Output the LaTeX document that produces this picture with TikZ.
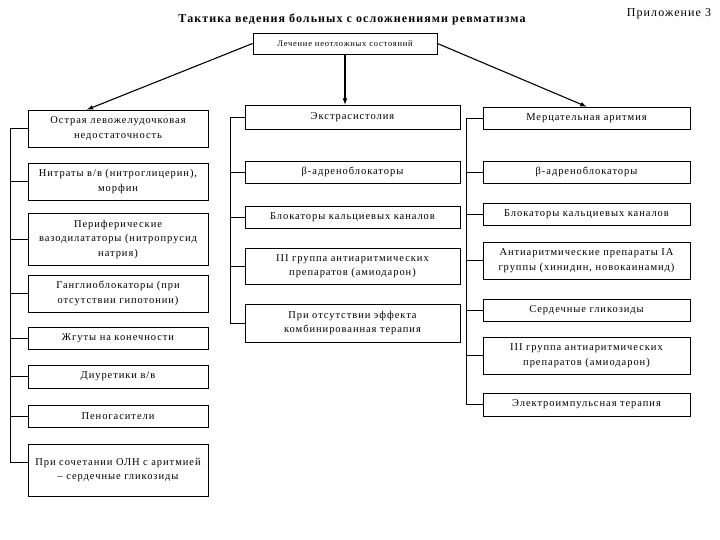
\documentclass[tikz,border=0pt]{standalone}
\usepackage{fontspec}
\setmainfont{Liberation Serif}[LetterSpace=9]
\usetikzlibrary{positioning}
\tikzset{
	blk/.style={draw, line width=0.8pt, align=center, inner sep=2pt,
		font=\fontsize{10.5}{14.5}\selectfont},
	lcol/.style={blk, minimum width=180pt, text width=176pt},
	mcol/.style={blk, minimum width=215pt, text width=211pt},
	rcol/.style={blk, minimum width=207pt, text width=203pt},
	arr/.style={-latex, line width=1.1pt},
	bus/.style={line width=0.8pt}
}
\begin{document}
\begin{tikzpicture}[x=1pt, y=-1pt]
		\useasboundingbox (0,0) rectangle (720,540);
		\node[font=\fontsize{12}{14}\selectfont\bfseries] (title) at (352,19) {Тактика ведения больных с осложнениями ревматизма};
		\node[font=\fontsize{12}{14}\selectfont] (app) at (669,14) {Приложение 3};
		\node[blk, minimum width=184pt, minimum height=21pt, font=\fontsize{8.5}{10}\selectfont] (top) at (345,43.5) {Лечение неотложных состояний};
		% left column
		\node[lcol, minimum height=37pt] (L1) at (118,128.5) {Острая левожелудочковая\\недостаточность};
		\node[lcol, minimum height=37pt] (L2) at (118,181.5) {Нитраты в/в (нитроглицерин),\\морфин};
		\node[lcol, minimum height=52pt] (L3) at (118,239) {Периферические\\вазодилататоры (нитропрусид\\натрия)};
		\node[lcol, minimum height=37pt] (L4) at (118,293.5) {Ганглиоблокаторы (при\\отсутствии гипотонии)};
		\node[lcol, minimum height=22pt] (L5) at (118,338) {Жгуты на конечности};
		\node[lcol, minimum height=23pt] (L6) at (118,376.5) {Диуретики в/в};
		\node[lcol, minimum height=22pt] (L7) at (118,416) {Пеногасители};
		\node[lcol, minimum height=52pt] (L8) at (118,470) {При сочетании ОЛН с аритмией\\– сердечные гликозиды};
		% middle column
		\node[mcol, minimum height=24pt] (M1) at (352.5,117) {Экстрасистолия};
		\node[mcol, minimum height=22pt] (M2) at (352.5,172) {β-адреноблокаторы};
		\node[mcol, minimum height=22pt] (M3) at (352.5,217) {Блокаторы кальциевых каналов};
		\node[mcol, minimum height=36pt] (M4) at (352.5,266) {III группа антиаритмических\\препаратов (амиодарон)};
		\node[mcol, minimum height=38pt] (M5) at (352.5,323) {При отсутствии эффекта\\комбинированная терапия};
		% right column
		\node[rcol, minimum height=22pt] (R1) at (586.5,118) {Мерцательная аритмия};
		\node[rcol, minimum height=22pt] (R2) at (586.5,172) {β-адреноблокаторы};
		\node[rcol, minimum height=22pt] (R3) at (586.5,214) {Блокаторы кальциевых каналов};
		\node[rcol, minimum height=37pt] (R4) at (586.5,260.5) {Антиаритмические препараты IA\\группы (хинидин, новокаинамид)};
		\node[rcol, minimum height=22pt] (R5) at (586.5,310) {Сердечные гликозиды};
		\node[rcol, minimum height=37pt] (R6) at (586.5,355.5) {III группа антиаритмических\\препаратов (амиодарон)};
		\node[rcol, minimum height=23pt] (R7) at (586.5,404.5) {Электроимпульсная терапия};
		% arrows from the top box
		\draw[arr] (top.west) -- ([xshift=-31pt]L1.north);
		\draw[arr] (top.south) -- (top.south |- M1.north);
		\draw[arr] (top.east) -- (R1.north);
		% buses
		\coordinate (lb) at (10,0);
		\coordinate (mb) at (230,0);
		\coordinate (rb) at (466,0);
		\coordinate (L8c) at ([yshift=8pt]L8.west);
		\draw[bus] (lb |- L1.west) -- (lb |- L8c);
		\foreach \n in {L1,L2,L3,L4,L5,L6,L7,L8c}
			\draw[bus] (lb |- \n) -- (\n);
		\draw[bus] (mb |- M1.west) -- (mb |- M5.west);
		\foreach \n in {M1,M2,M3,M4,M5}
			\draw[bus] (mb |- \n.west) -- (\n.west);
		\draw[bus] (rb |- R1.west) -- (rb |- R7.west);
		\foreach \n in {R1,R2,R3,R4,R5,R6,R7}
			\draw[bus] (rb |- \n.west) -- (\n.west);
\end{tikzpicture}
\end{document}
